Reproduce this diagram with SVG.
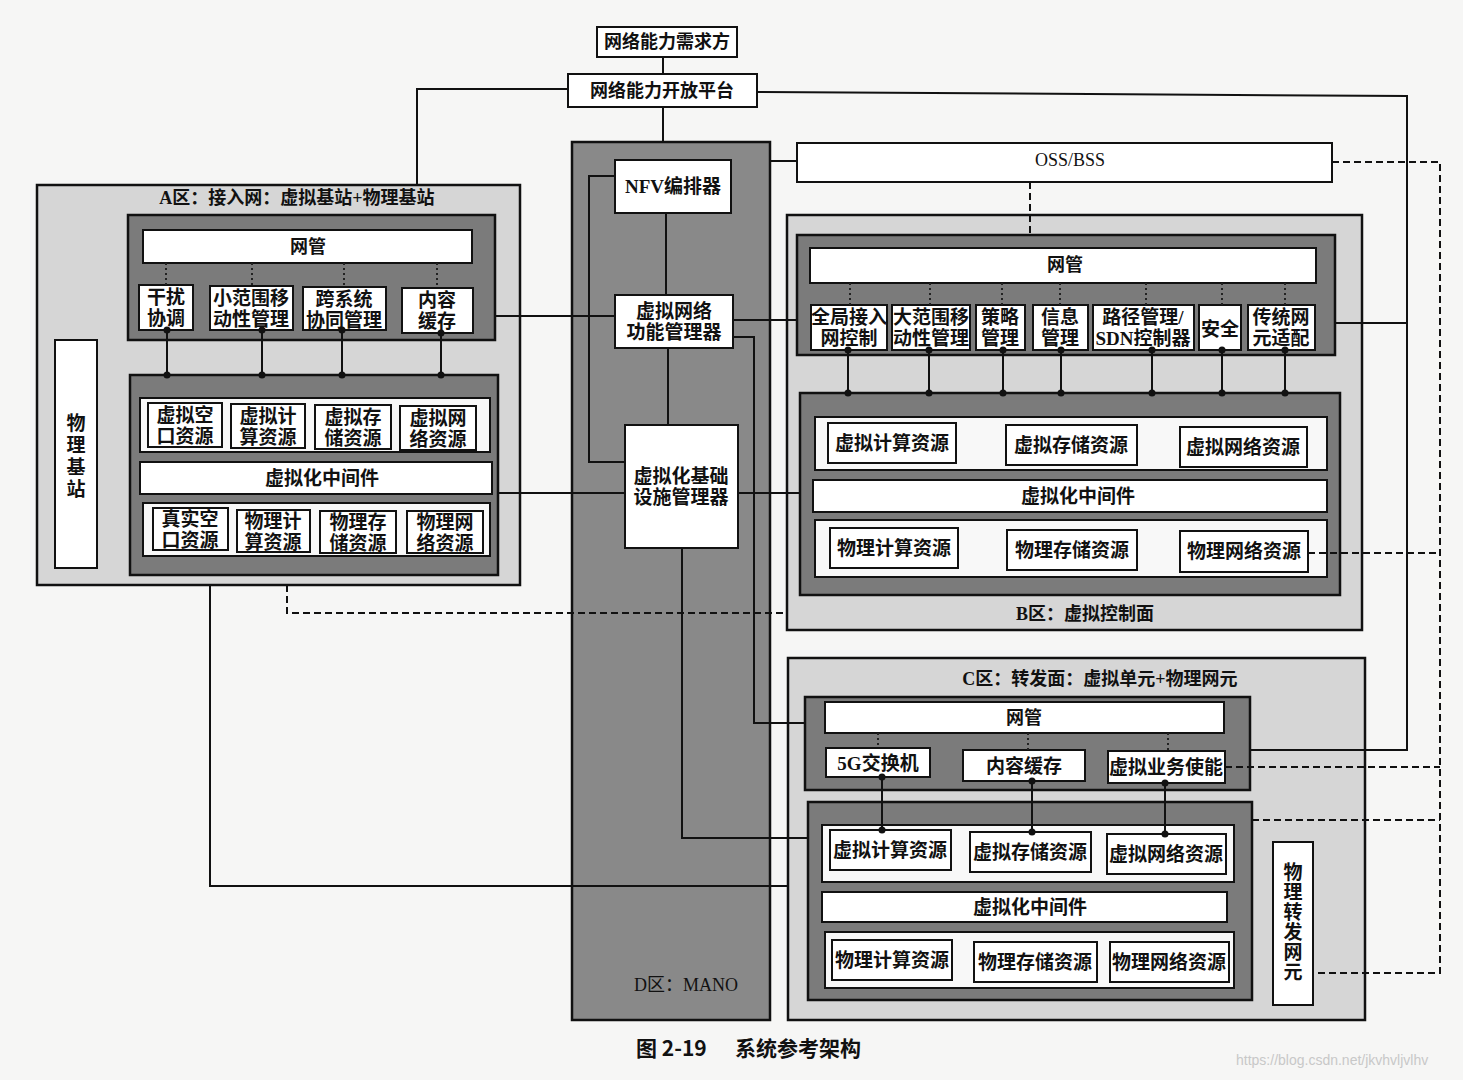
<svg xmlns="http://www.w3.org/2000/svg" width="1463" height="1080" viewBox="0 0 1463 1080">
<defs>
<style>
.bg{fill:#f6f6f5}
.zone{fill:#d6d6d6;stroke:#111;stroke-width:2.5}
.mano{fill:#898989;stroke:#111;stroke-width:2.5}
.panel{fill:#7b7b7b;stroke:#111;stroke-width:2.5}
.row{fill:#f8f8f8;stroke:#111;stroke-width:2}
.box{fill:#fff;stroke:#111;stroke-width:2}
.c{fill:none;stroke:#111;stroke-width:2}
.dash{fill:none;stroke:#111;stroke-width:2;stroke-dasharray:7 4}
.dot{fill:none;stroke:#222;stroke-width:2;stroke-dasharray:2 3}
.j{fill:#111}
text{font-family:"Liberation Serif","Noto Sans CJK SC",serif;font-weight:700;font-size:19px;fill:#111;text-anchor:middle;dominant-baseline:central}
.ttl{font-size:18px}
.lbl{font-weight:400;font-size:18px}
.cap{font-family:"Noto Sans CJK SC","Liberation Sans",sans-serif;font-size:21px;text-anchor:start}
.wm{font-family:"Liberation Sans",sans-serif;font-weight:400;font-size:14px;fill:#c8c8c8;text-anchor:start}
</style>
</defs>
<rect class="bg" x="0" y="0" width="1463" height="1080"/>

<g id="demand">
<rect class="box" x="597" y="27" width="140" height="30"/>
<text x="667" y="42" style="font-size:18px">网络能力需求方</text>
</g>
<g id="platform">
<rect class="box" x="568" y="74" width="189" height="33"/>
<text x="662" y="91" style="font-size:18px">网络能力开放平台</text>
</g>

<g id="zoneD">
<rect class="mano" x="572" y="142" width="198" height="878"/>
<text class="lbl" x="686" y="985">D区：MANO</text>
</g>
<g id="nfvo">
<rect class="box" x="615" y="160" width="116" height="53"/>
<text x="673" y="186">NFV编排器</text>
</g>
<g id="vnfm">
<rect class="box" x="615" y="295" width="118" height="53"/>
<text x="674" y="311">虚拟网络</text>
<text x="674" y="332">功能管理器</text>
</g>
<g id="vim">
<rect class="box" x="625" y="425" width="113" height="123"/>
<text x="681" y="476">虚拟化基础</text>
<text x="681" y="497">设施管理器</text>
</g>

<g id="ossbss">
<rect class="box" x="797" y="143" width="535" height="39"/>
<text class="lbl" x="1070" y="160">OSS/BSS</text>
</g>

<g id="zoneA">
<rect class="zone" x="37" y="185" width="483" height="400"/>
<text class="ttl" x="297" y="198">A区：接入网：虚拟基站+物理基站</text>
<rect class="panel" x="128" y="215" width="367" height="125"/>
<rect class="panel" x="130" y="375" width="368" height="200"/>
<rect class="row" x="140" y="398" width="350" height="54"/>
<rect class="row" x="143" y="503" width="347" height="53"/>
</g>
<g id="A-nm"><rect class="box" x="143" y="230" width="329" height="33"/><text x="308" y="247" style="font-size:18px">网管</text></g>
<g id="A-f1"><rect class="box" x="139" y="285" width="54" height="45"/><text x="166" y="297">干扰</text><text x="166" y="318">协调</text></g>
<g id="A-f2"><rect class="box" x="210" y="286" width="83" height="44"/><text x="251" y="298">小范围移</text><text x="251" y="319">动性管理</text></g>
<g id="A-f3"><rect class="box" x="303" y="287" width="83" height="43"/><text x="344" y="299">跨系统</text><text x="344" y="320">协同管理</text></g>
<g id="A-f4"><rect class="box" x="402" y="288" width="71" height="45"/><text x="437" y="300">内容</text><text x="437" y="321">缓存</text></g>
<g id="A-pbs"><rect class="box" x="55" y="340" width="42" height="228"/><text x="76" y="423">物</text><text x="76" y="445">理</text><text x="76" y="467">基</text><text x="76" y="489">站</text></g>
<g id="A-v1"><rect class="box" x="148" y="403" width="74" height="44"/><text x="185" y="415">虚拟空</text><text x="185" y="436">口资源</text></g>
<g id="A-v2"><rect class="box" x="231" y="404" width="74" height="44"/><text x="268" y="416">虚拟计</text><text x="268" y="437">算资源</text></g>
<g id="A-v3"><rect class="box" x="315" y="405" width="76" height="44"/><text x="353" y="417">虚拟存</text><text x="353" y="438">储资源</text></g>
<g id="A-v4"><rect class="box" x="400" y="406" width="76" height="44"/><text x="438" y="418">虚拟网</text><text x="438" y="439">络资源</text></g>
<g id="A-mw"><rect class="box" x="140" y="462" width="352" height="32"/><text x="322" y="478">虚拟化中间件</text></g>
<g id="A-p1"><rect class="box" x="153" y="508" width="75" height="42"/><text x="190" y="519">真实空</text><text x="190" y="540">口资源</text></g>
<g id="A-p2"><rect class="box" x="237" y="510" width="73" height="42"/><text x="273" y="521">物理计</text><text x="273" y="542">算资源</text></g>
<g id="A-p3"><rect class="box" x="320" y="511" width="76" height="42"/><text x="358" y="522">物理存</text><text x="358" y="543">储资源</text></g>
<g id="A-p4"><rect class="box" x="407" y="511" width="76" height="42"/><text x="445" y="522">物理网</text><text x="445" y="543">络资源</text></g>

<g id="zoneB">
<rect class="zone" x="787" y="215" width="575" height="415"/>
<text class="ttl" x="1085" y="614">B区：虚拟控制面</text>
<rect class="panel" x="797" y="235" width="538" height="120"/>
<rect class="panel" x="800" y="393" width="540" height="202"/>
<rect class="row" x="815" y="417" width="512" height="53"/>
<rect class="row" x="815" y="520" width="512" height="57"/>
</g>
<g id="B-nm"><rect class="box" x="810" y="248" width="506" height="35"/><text x="1065" y="265" style="font-size:18px">网管</text></g>
<g id="B-f1"><rect class="box" x="811" y="305" width="76" height="45"/><text x="849" y="317">全局接入</text><text x="849" y="338">网控制</text></g>
<g id="B-f2"><rect class="box" x="892" y="305" width="78" height="45"/><text x="931" y="317">大范围移</text><text x="931" y="338">动性管理</text></g>
<g id="B-f3"><rect class="box" x="976" y="305" width="49" height="45"/><text x="1000" y="317">策略</text><text x="1000" y="338">管理</text></g>
<g id="B-f4"><rect class="box" x="1033" y="305" width="55" height="45"/><text x="1060" y="317">信息</text><text x="1060" y="338">管理</text></g>
<g id="B-f5"><rect class="box" x="1093" y="305" width="101" height="45"/><text x="1143" y="317">路径管理/</text><text x="1143" y="338">SDN控制器</text></g>
<g id="B-f6"><rect class="box" x="1199" y="305" width="42" height="45"/><text x="1220" y="329">安全</text></g>
<g id="B-f7"><rect class="box" x="1248" y="305" width="67" height="45"/><text x="1281" y="317">传统网</text><text x="1281" y="338">元适配</text></g>
<g id="B-v1"><rect class="box" x="828" y="423" width="128" height="40"/><text x="892" y="443">虚拟计算资源</text></g>
<g id="B-v2"><rect class="box" x="1006" y="425" width="131" height="40"/><text x="1071" y="445">虚拟存储资源</text></g>
<g id="B-v3"><rect class="box" x="1180" y="427" width="127" height="40"/><text x="1243" y="447">虚拟网络资源</text></g>
<g id="B-mw"><rect class="box" x="813" y="480" width="514" height="32"/><text x="1078" y="496">虚拟化中间件</text></g>
<g id="B-p1"><rect class="box" x="830" y="528" width="128" height="40"/><text x="894" y="548">物理计算资源</text></g>
<g id="B-p2"><rect class="box" x="1007" y="530" width="130" height="40"/><text x="1072" y="550">物理存储资源</text></g>
<g id="B-p3"><rect class="box" x="1180" y="531" width="128" height="41"/><text x="1244" y="551">物理网络资源</text></g>

<g id="zoneC">
<rect class="zone" x="788" y="658" width="577" height="362"/>
<text class="ttl" x="1100" y="679">C区：转发面：虚拟单元+物理网元</text>
<rect class="panel" x="805" y="697" width="445" height="93"/>
<rect class="panel" x="808" y="802" width="444" height="198"/>
<rect class="row" x="822" y="825" width="412" height="57"/>
<rect class="row" x="825" y="932" width="409" height="56"/>
</g>
<g id="C-nm"><rect class="box" x="825" y="702" width="399" height="31"/><text x="1024" y="718" style="font-size:18px">网管</text></g>
<g id="C-f1"><rect class="box" x="826" y="748" width="104" height="29"/><text x="878" y="763">5G交换机</text></g>
<g id="C-f2"><rect class="box" x="963" y="750" width="122" height="31"/><text x="1024" y="766">内容缓存</text></g>
<g id="C-f3"><rect class="box" x="1108" y="751" width="117" height="32"/><text x="1166" y="767">虚拟业务使能</text></g>
<g id="C-v1"><rect class="box" x="830" y="830" width="121" height="40"/><text x="890" y="850">虚拟计算资源</text></g>
<g id="C-v2"><rect class="box" x="970" y="832" width="121" height="40"/><text x="1030" y="852">虚拟存储资源</text></g>
<g id="C-v3"><rect class="box" x="1107" y="834" width="119" height="40"/><text x="1166" y="854">虚拟网络资源</text></g>
<g id="C-mw"><rect class="box" x="822" y="892" width="405" height="30"/><text x="1030" y="907">虚拟化中间件</text></g>
<g id="C-p1"><rect class="box" x="832" y="940" width="120" height="40"/><text x="892" y="960">物理计算资源</text></g>
<g id="C-p2"><rect class="box" x="974" y="942" width="123" height="40"/><text x="1035" y="962">物理存储资源</text></g>
<g id="C-p3"><rect class="box" x="1110" y="942" width="119" height="40"/><text x="1169" y="962">物理网络资源</text></g>
<g id="C-pfe"><rect class="box" x="1273" y="842" width="40" height="163"/><text x="1293" y="872">物</text><text x="1293" y="892">理</text><text x="1293" y="912">转</text><text x="1293" y="932">发</text><text x="1293" y="952">网</text><text x="1293" y="972">元</text></g>

<g id="connectors">
<path class="c" d="M663,57 V74"/>
<path class="c" d="M663,107 V142"/>
<path class="c" d="M568,89 H417 V185"/>
<path class="c" d="M757,92 L1407,96 V750 H1250"/>
<path class="c" d="M770,161 H797"/>
<path class="c" d="M666,213 V295"/>
<path class="c" d="M668,348 V425"/>
<path class="c" d="M615,176 H589 V462 H625"/>
<path class="c" d="M733,337 H754 V723 H805"/>
<path class="c" d="M682,548 V838 H808"/>
<path class="c" d="M495,316 H615"/>
<path class="c" d="M733,320 H797"/>
<path class="c" d="M498,493 H625"/>
<path class="c" d="M738,493 H800"/>
<path class="c" d="M210,585 V886 H788"/>
<path class="c" d="M1335,323 H1407"/>
<path class="dash" d="M287,585 V613 H787"/>
<path class="dash" d="M1030,182 V235"/>
<path class="dash" d="M1332,162 H1440 V973 H1313"/>
<path class="dash" d="M1308,553 H1440"/>
<path class="dash" d="M1225,767 H1440"/>
<path class="dash" d="M1252,820 H1440"/>
<path class="dot" d="M166,263 V285 M252,263 V286 M344,263 V287 M437,263 V288"/>
<path class="dot" d="M850,283 V305 M930,283 V305 M1002,283 V305 M1060,283 V305 M1146,283 V305 M1222,283 V305 M1285,283 V305"/>
<path class="dot" d="M878,733 V748 M1028,733 V750 M1168,733 V751"/>
<path class="c" d="M167,330 V375 M262,330 V375 M342,330 V375 M441,333 V375"/>
<path class="c" d="M848,350 V393 M929,350 V393 M1003,350 V393 M1061,350 V393 M1152,350 V393 M1222,350 V393 M1285,350 V393"/>
<path class="c" d="M882,777 V830 M1032,781 V832 M1165,783 V834"/>
<g class="j">
<circle cx="167" cy="330" r="3.5"/><circle cx="167" cy="375" r="3.5"/>
<circle cx="262" cy="330" r="3.5"/><circle cx="262" cy="375" r="3.5"/>
<circle cx="342" cy="330" r="3.5"/><circle cx="342" cy="375" r="3.5"/>
<circle cx="441" cy="333" r="3.5"/><circle cx="441" cy="375" r="3.5"/>
<circle cx="848" cy="350" r="3.5"/><circle cx="848" cy="393" r="3.5"/>
<circle cx="929" cy="350" r="3.5"/><circle cx="929" cy="393" r="3.5"/>
<circle cx="1003" cy="350" r="3.5"/><circle cx="1003" cy="393" r="3.5"/>
<circle cx="1061" cy="350" r="3.5"/><circle cx="1061" cy="393" r="3.5"/>
<circle cx="1152" cy="350" r="3.5"/><circle cx="1152" cy="393" r="3.5"/>
<circle cx="1222" cy="350" r="3.5"/><circle cx="1222" cy="393" r="3.5"/>
<circle cx="1285" cy="350" r="3.5"/><circle cx="1285" cy="393" r="3.5"/>
<circle cx="882" cy="777" r="3.5"/><circle cx="882" cy="830" r="3.5"/>
<circle cx="1032" cy="781" r="3.5"/><circle cx="1032" cy="832" r="3.5"/>
<circle cx="1165" cy="783" r="3.5"/><circle cx="1165" cy="834" r="3.5"/>
</g>
</g>

<g id="caption">
<text class="cap" x="636" y="1047">图 2-19</text>
<text class="cap" x="735" y="1047">系统参考架构</text>
</g>
<text class="wm" x="1236" y="1060">https://blog.csdn.net/jkvhvljvlhv</text>
</svg>
